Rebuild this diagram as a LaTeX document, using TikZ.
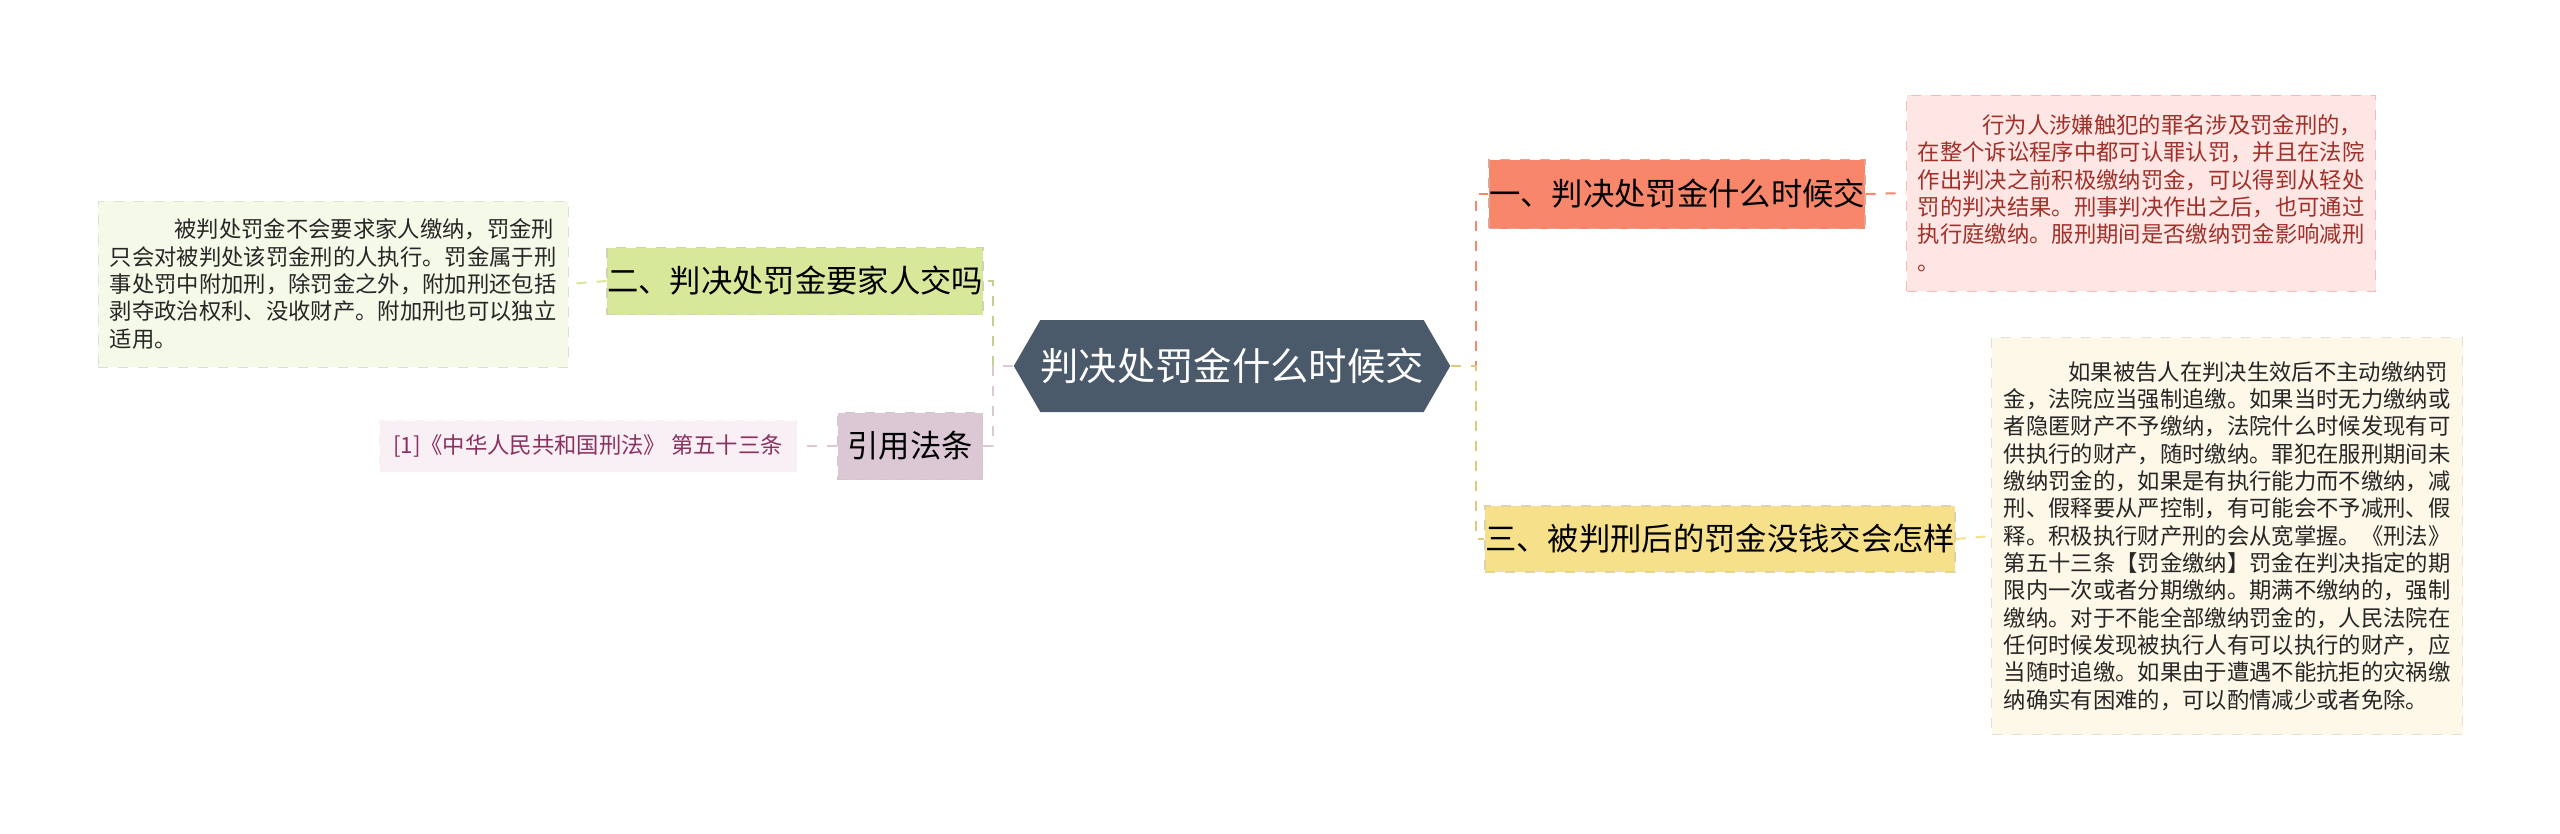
\documentclass[tikz,border=0pt]{standalone}
\usepackage{fontspec}
\setmainfont{Noto Sans CJK SC}
\usetikzlibrary{shapes.symbols}
\definecolor{rootc}{HTML}{4A5A6A}
\definecolor{onec}{HTML}{F7866A}
\definecolor{onenote}{HTML}{FDE6E3}
\definecolor{onetext}{HTML}{A0302A}
\definecolor{twoc}{HTML}{D8E89A}
\definecolor{twonote}{HTML}{F5F9E8}
\definecolor{threec}{HTML}{F7E08A}
\definecolor{threenote}{HTML}{FDF8E8}
\definecolor{refc}{HTML}{DCC8D4}
\definecolor{refnote}{HTML}{F8F0F4}
\definecolor{reftext}{HTML}{8B3060}
\begin{document}
\begin{tikzpicture}[x=0.3pt,y=-0.3pt]

  \tikzstyle{topic} = [font=\fontsize{9.4}{11}\selectfont, inner sep=0pt, draw, dashed, line width=0.4pt]
  \tikzstyle{note} = [font=\fontsize{6.7}{8.2}\selectfont, align=left, inner sep=0pt, draw, dashed, line width=0.3pt]
  \tikzstyle{link} = [dashed, line width=0.6pt]

  \fill[white] (0,0) rectangle (2560,833);

  \node[signal, signal to=west and east, signal pointer angle=120, fill=rootc, text=white,
        font=\fontsize{11.5}{13}\selectfont, minimum width=425*0.3pt, minimum height=92*0.3pt, inner sep=0pt] (root) at (1232,366) {判决处罚金什么时候交};

  \node[topic, fill=onec, draw=onec!80!black!60, minimum width=376*0.3pt, minimum height=69*0.3pt] (one) at (1677,194) {一、判决处罚金什么时候交};
  \node[topic, fill=threec, draw=threec!80!black!60, minimum width=462*0.3pt, minimum height=66*0.3pt] (three) at (1720,539) {三、被判刑后的罚金没钱交会怎样};
  \node[topic, fill=twoc, draw=twoc!80!black!60, minimum width=376*0.3pt, minimum height=67*0.3pt] (two) at (795,281) {二、判决处罚金要家人交吗};
  \node[topic, fill=refc, draw=refc!80!black!60, minimum width=145*0.3pt, minimum height=67*0.3pt] (ref) at (910,446) {引用法条};

  \node[note, fill=onenote, draw=onenote!80!red, text=onetext, minimum width=469*0.3pt, minimum height=196*0.3pt] (onetxt) at (2141,193)
    {\hspace*{2.9em}行为人涉嫌触犯的罪名涉及罚金刑的，\\在整个诉讼程序中都可认罪认罚，并且在法院\\作出判决之前积极缴纳罚金，可以得到从轻处\\罚的判决结果。刑事判决作出之后，也可通过\\执行庭缴纳。服刑期间是否缴纳罚金影响减刑\\。};
  \node[note, fill=threenote, draw=threenote!90!black, text=black!85, minimum width=471*0.3pt, minimum height=397*0.3pt] (threetxt) at (2227,536)
    {\hspace*{2.9em}如果被告人在判决生效后不主动缴纳罚\\金，法院应当强制追缴。如果当时无力缴纳或\\者隐匿财产不予缴纳，法院什么时候发现有可\\供执行的财产，随时缴纳。罪犯在服刑期间未\\缴纳罚金的，如果是有执行能力而不缴纳，减\\刑、假释要从严控制，有可能会不予减刑、假\\释。积极执行财产刑的会从宽掌握。《刑法》\\第五十三条【罚金缴纳】罚金在判决指定的期\\限内一次或者分期缴纳。期满不缴纳的，强制\\缴纳。对于不能全部缴纳罚金的，人民法院在\\任何时候发现被执行人有可以执行的财产，应\\当随时追缴。如果由于遭遇不能抗拒的灾祸缴\\纳确实有困难的，可以酌情减少或者免除。};
  \node[note, fill=twonote, draw=twonote!90!black, text=black!85, minimum width=470*0.3pt, minimum height=166*0.3pt] (twotxt) at (333,284)
    {\hspace*{2.9em}被判处罚金不会要求家人缴纳，罚金刑\\只会对被判处该罚金刑的人执行。罚金属于刑\\事处罚中附加刑，除罚金之外，附加刑还包括\\剥夺政治权利、没收财产。附加刑也可以独立\\适用。};
  \node[note, fill=refnote, draw=refnote, text=reftext, minimum width=417*0.3pt, minimum height=51*0.3pt] (reftxt) at (588,446)
    {[1]《中华人民共和国刑法》 第五十三条};

  \draw[link, onec] (root.east) -- ++(25,0) |- (one.west);
  \draw[link, threec!90!black] (root.east) -- ++(25,0) |- (three.west);
  \draw[link, twoc!90!black] (root.west) -- ++(-20,0) |- (two.east);
  \draw[link, refc] (root.west) -- ++(-20,0) |- (ref.east);

  \draw[link, onec] (one.east) -- (onetxt.west);
  \draw[link, threec] (three.east) -- (threetxt.west);
  \draw[link, twoc] (two.west) -- (twotxt.east);
  \draw[link, refc] (ref.west) -- (reftxt.east);

\end{tikzpicture}
\end{document}
